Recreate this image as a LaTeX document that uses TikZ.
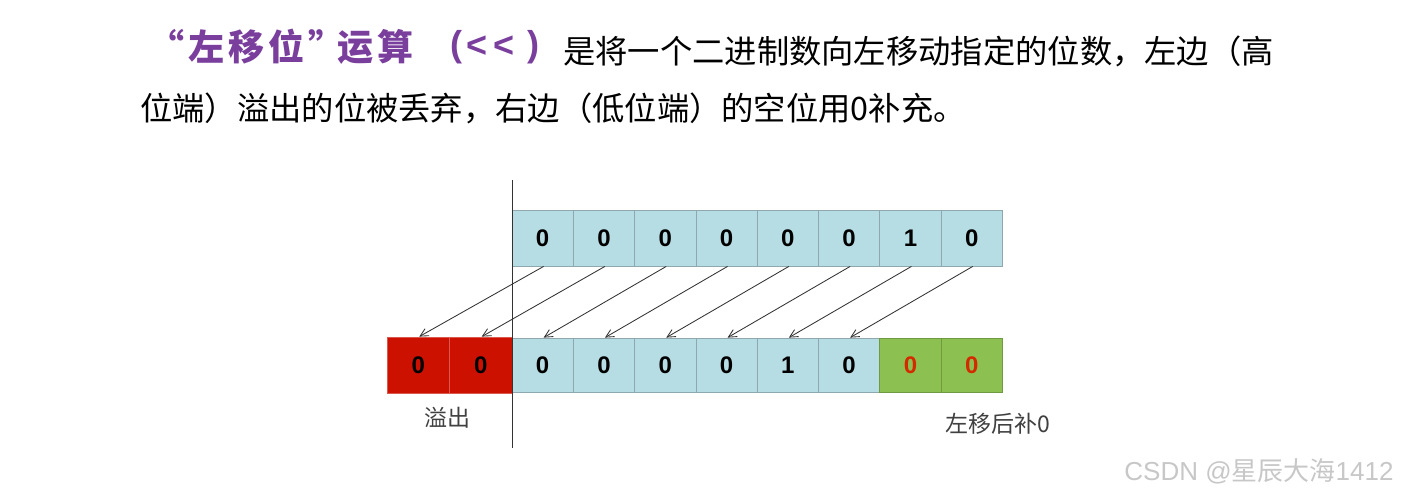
\documentclass[tikz,border=0pt]{standalone}
\usepackage{fontspec}
\setmainfont{Liberation Sans}
\newfontfamily\cjk{Noto Sans CJK SC}
\newfontfamily\cjkwide[LetterSpace=11]{Noto Sans CJK SC}
\newfontfamily\digitfont{Liberation Sans}
\usetikzlibrary{arrows.meta}
\definecolor{cellblue}{HTML}{B7DDE4}
\definecolor{cellborder}{HTML}{8FA8B0}
\definecolor{overred}{HTML}{CC1100}
\definecolor{fillgreen}{HTML}{8CC152}
\definecolor{zerored}{HTML}{D42A00}
\definecolor{titlepurple}{HTML}{7A3E9D}
\definecolor{arrowgray}{HTML}{333333}
\tikzset{
  cellbox/.style={draw=cellborder, line width=0.8pt, minimum width=61.3pt, minimum height=56pt, inner sep=0pt, fill=cellblue, font=\digitfont\bfseries\fontsize{24}{24}\selectfont},
  redcell/.style={cellbox, fill=overred, draw=overred!70!white},
  greencell/.style={cellbox, fill=fillgreen, draw=fillgreen!80!black, text=zerored},
  shiftarrow/.style={draw=arrowgray, line width=0.85pt, -{Straight Barb[length=8pt,width=8pt]}},
  note/.style={font=\cjk\fontsize{23}{23}\selectfont, text=black!75, inner sep=0pt},
  titlepart/.style={anchor=west, inner sep=0pt, text=titlepurple, font=\cjkwide\bfseries\fontsize{36}{36}\selectfont},
  symbolpart/.style={anchor=west, inner sep=0pt, text=titlepurple, font=\digitfont\bfseries\fontsize{36}{36}\selectfont},
  bodytext/.style={anchor=west, inner sep=0pt, font=\cjk\fontsize{32.3}{32.3}\selectfont},
}
\begin{document}
\begin{tikzpicture}[x=1pt,y=-1pt]
\useasboundingbox (0,0) rectangle (1403,499);
% title
\node[titlepart] (tp1) at (148,47) {“左移位”};
\node[titlepart] (tp2) at (337,47) {运算};
\node[symbolpart] (tp3) at (450,47) {(};
\node[symbolpart] (tp4) at (466,47) {<\hspace{6pt}<};
\node[symbolpart] (tp5) at (527,47) {)};
\node[bodytext] (tb) at (563,51) {是将一个二进制数向左移动指定的位数，左边（高};
\node[bodytext] (tl2) at (140,108) {位端）溢出的位被丢弃，右边（低位端）的空位用0补充。};
% top row
\foreach \v [count=\i] in {0,0,0,0,0,0,1,0}{
  \node[cellbox] (t\i) at ({512+61.3*(\i-0.5)},238) {\v};
}
% bottom row
\node[redcell, minimum width=62.5pt] (b1) at (418.25,365) {0};
\node[redcell, minimum width=62.5pt] (b2) at (480.75,365) {0};
\foreach \v [count=\i from 3] in {0,0,0,0,1,0}{
  \node[cellbox, minimum height=54pt] (b\i) at ({512+61.3*(\i-2.5)},365) {\v};
}
\node[greencell, minimum height=54pt] (b9) at ({512+61.3*6.5},365) {0};
\node[greencell, minimum height=54pt] (b10) at ({512+61.3*7.5},365) {0};
% divider
\coordinate (vtop) at (512,180);
\coordinate (vbot) at (512,448);
\draw[line width=1pt, black!80] (vtop) -- (vbot);
% arrows
\foreach \i in {1,...,8}{
  \draw[shiftarrow] ([xshift=1pt]t\i.south) -- ([xshift=1pt]b\i.north);
}
% labels
\node[note] (ovl) at (447,418) {溢出};
\node[note] (fill) at (998,424) {左移后补0};
% watermark
\node[inner sep=0pt, text=black!22, font=\digitfont\fontsize{26}{26}\selectfont] (wm) at (1259,471) {CSDN @{\cjk 星辰大海}1412};
\end{tikzpicture}
\end{document}
